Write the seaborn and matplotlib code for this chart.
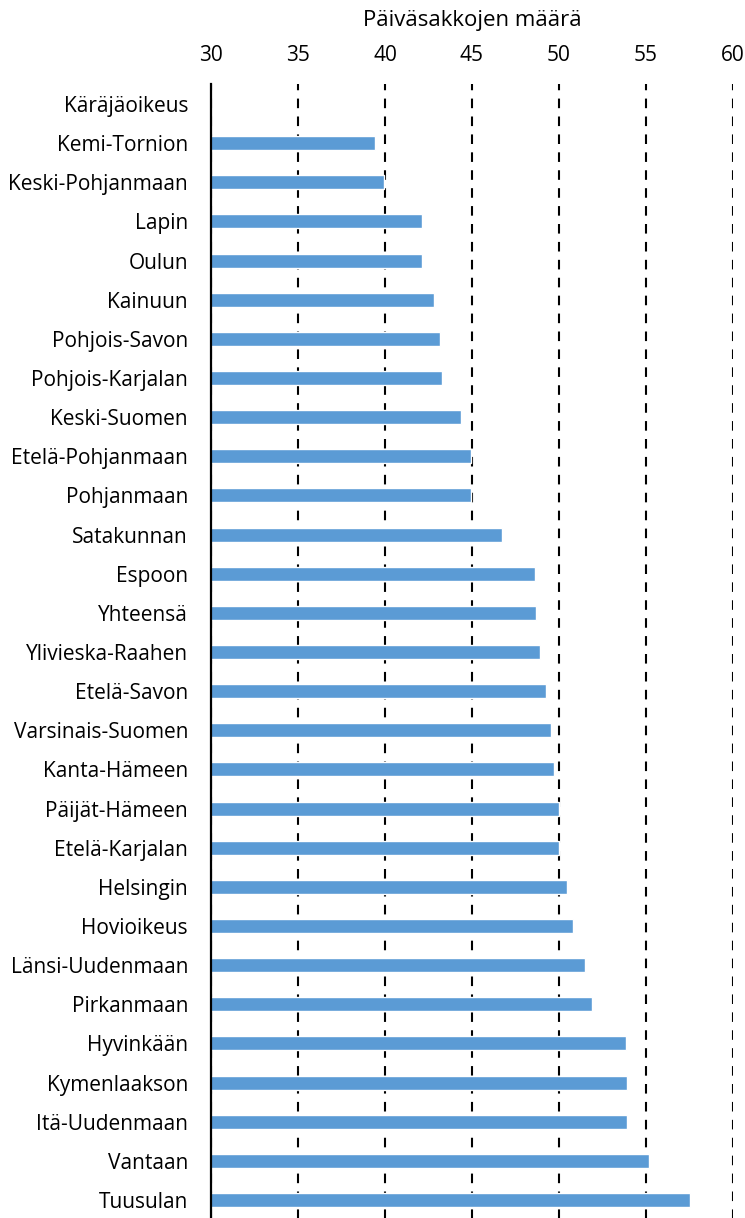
import seaborn as sns
import matplotlib.pyplot as plt
import pandas as pd
import numpy as np

# käräjäoikeudet ja päiväsakkojen keskimääräinen määrä
oikeudet = ["Käräjäoikeus", "Kemi-Tornion", "Keski-Pohjanmaan", "Lapin", "Oulun", "Kainuun",
            "Pohjois-Savon", "Pohjois-Karjalan", "Keski-Suomen", "Etelä-Pohjanmaan",
            "Pohjanmaan", "Satakunnan", "Espoon", "Yhteensä", "Ylivieska-Raahen",
            "Etelä-Savon", "Varsinais-Suomen", "Kanta-Hämeen", "Päijät-Hämeen",
            "Etelä-Karjalan", "Helsingin", "Hovioikeus", "Länsi-Uudenmaan", "Pirkanmaan",
            "Hyvinkään", "Kymenlaakson", "Itä-Uudenmaan", "Vantaan", "Tuusulan"]
paivasakot = [np.nan, 39.4, 39.95, 42.1, 42.1, 42.8,
              43.15, 43.25, 44.35, 44.95,
              44.95, 46.7, 48.62, 48.66, 48.9,
              49.25, 49.55, 49.7, 49.98,
              50.0, 50.48, 50.83, 51.52, 51.92,
              53.83, 53.88, 53.9, 55.2, 57.5]
xticks = [30, 35, 40, 45, 50, 55, 60]

df = pd.DataFrame({"oikeus": oikeudet, "maara": paivasakot})

sns.set_style("white")
plt.rcParams["font.family"] = ["Open Sans", "DejaVu Sans"]
plt.rcParams["text.color"] = "black"
plt.rcParams["xtick.color"] = "black"
plt.rcParams["ytick.color"] = "black"
plt.rcParams["axes.labelcolor"] = "black"

fig = plt.figure(figsize=(7.45, 12.18), dpi=100)
ax = fig.add_axes([0.2832, -0.0013, 0.7007, 0.932])

sns.barplot(data=df, x="maara", y="oikeus", order=oikeudet, orient="h",
            color="#5B9BD5", saturation=1, width=0.36, ax=ax)

ax.set_xlim(30, 60)
ax.set_ylim(len(oikeudet) - 0.5, -0.5)
ax.set_xticks(xticks)
ax.xaxis.tick_top()
ax.xaxis.set_label_position("top")
ax.set_xlabel("Päiväsakkojen määrä", fontsize=16, labelpad=14)
ax.set_ylabel("")
ax.tick_params(axis="x", length=0, pad=13, labelsize=15)
ax.tick_params(axis="y", length=0, pad=16.5, labelsize=15)

ax.set_axisbelow(True)
ax.grid(axis="x", color="black", linewidth=1.5, linestyle=(0, (4.6, 4)))
ax.grid(axis="y", visible=False)

for s in ["top", "right", "bottom"]:
    ax.spines[s].set_visible(False)
ax.spines["left"].set_color("black")
ax.spines["left"].set_linewidth(1.6)
ax.spines["left"].set_zorder(5)

fig.savefig("out.png", dpi=100)
